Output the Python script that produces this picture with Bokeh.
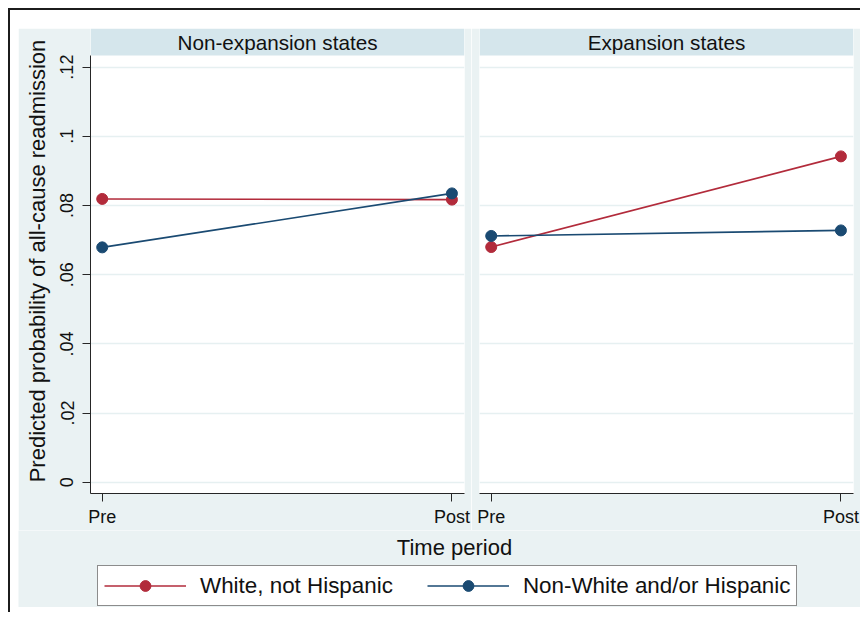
from bokeh.plotting import figure
from bokeh.models import (Range1d, FixedTicker, BoxAnnotation, Label, Legend, LegendItem,
                          ColumnDataSource, Spacer)
from bokeh.layouts import row, column
from bokeh.embed import file_html
from bokeh.resources import INLINE

# ---------------- data ----------------
periods = ["Pre", "Post"]
period_pos = [0, 1]
panel_titles = ["Non-expansion states", "Expansion states"]
series_names = ["White, not Hispanic", "Non-White and/or Hispanic"]
nonexp_white = [0.0819, 0.0817]
nonexp_nonwhite = [0.0679, 0.0835]
exp_white = [0.0680, 0.0942]
exp_nonwhite = [0.0712, 0.0728]
y_ticks = [0, 0.02, 0.04, 0.06, 0.08, 0.1, 0.12]
y_tick_labels = ["0", ".02", ".04", ".06", ".08", ".1", ".12"]
x_title = "Time period"
y_title = "Predicted probability of all-cause readmission"

# ---------------- style ----------------
FONT = "Liberation Sans"
BG = "#EAF2F3"
HDR = "#D5E6EC"
GRID = "#E6F0F1"
RED = "#B22B3B"
BLUE = "#1A4A72"
AX = "#262626"

X_START, X_END = -0.0335, 1.036
Y_START, Y_END = -0.00324, 0.13116
Y_PLOT_TOP = 0.12335
LEFT_BORDER = 72

y_range = Range1d(Y_START, Y_END)


def make_panel(title, white, nonwhite, first):
    p = figure(width=(LEFT_BORDER + 381) if first else 389, height=502,
               x_range=Range1d(X_START, X_END), y_range=y_range,
               output_backend="svg", toolbar_location=None,
               min_border_top=0, min_border_bottom=37,
               min_border_left=LEFT_BORDER if first else 8, min_border_right=7,
               background_fill_color="white", border_fill_color=BG,
               outline_line_color=None)
    # header strip
    p.add_layout(BoxAnnotation(left=X_START, right=X_END, bottom=Y_PLOT_TOP, top=Y_END,
                               fill_color=HDR, fill_alpha=1, line_color=None, level="underlay"))
    p.add_layout(Label(x=(X_START + X_END) / 2, y=(Y_PLOT_TOP + Y_END) / 2, text=title,
                       text_align="center", text_baseline="middle",
                       text_font=FONT, text_font_size="20.7px", text_color="#111111"))
    src_w = ColumnDataSource(dict(x=period_pos, y=white))
    src_n = ColumnDataSource(dict(x=period_pos, y=nonwhite))
    p.line("x", "y", source=src_w, color=RED, line_width=1.6)
    p.scatter("x", "y", source=src_w, size=11, fill_color=RED, line_color=RED)
    p.line("x", "y", source=src_n, color=BLUE, line_width=1.6)
    p.scatter("x", "y", source=src_n, size=11, fill_color=BLUE, line_color=BLUE)

    # x axis
    xa = p.xaxis[0]
    xa.ticker = FixedTicker(ticks=period_pos)
    xa.major_label_overrides = {k: v for k, v in zip(period_pos, periods)}
    xa.major_tick_out = 8
    xa.major_tick_in = 0
    xa.minor_tick_out = 0
    xa.minor_tick_in = 0
    xa.axis_line_color = AX
    xa.major_tick_line_color = AX
    xa.major_label_text_font = FONT
    xa.major_label_text_font_size = "18px"
    xa.major_label_text_color = "#111111"
    xa.major_label_standoff = 5
    p.xgrid.visible = False

    # y axis / grid
    ya = p.yaxis[0]
    ya.ticker = FixedTicker(ticks=y_ticks)
    p.ygrid.ticker = FixedTicker(ticks=y_ticks)
    p.ygrid.grid_line_color = GRID
    p.ygrid.grid_line_width = 1.5
    if first:
        ya.bounds = (Y_START, Y_PLOT_TOP)
        ya.major_label_overrides = {k: v for k, v in zip(y_ticks, y_tick_labels)}
        ya.major_label_orientation = "vertical"
        ya.major_tick_out = 8
        ya.major_tick_in = 0
        ya.minor_tick_out = 0
        ya.minor_tick_in = 0
        ya.axis_line_color = AX
        ya.major_tick_line_color = AX
        ya.major_label_text_font = FONT
        ya.major_label_text_font_size = "18px"
        ya.major_label_text_color = "#111111"
        ya.major_label_standoff = 9
        ya.axis_label = y_title
        ya.axis_label_text_font = FONT
        ya.axis_label_text_font_size = "22px"
        ya.axis_label_text_font_style = "normal"
        ya.axis_label_text_color = "#111111"
        ya.axis_label_standoff = 8
    else:
        ya.visible = False
    return p


pA = make_panel(panel_titles[0], nonexp_white, nonexp_nonwhite, True)
pB = make_panel(panel_titles[1], exp_white, exp_nonwhite, False)

# bottom strip: common x title and legend
CW = LEFT_BORDER + 381 + 389
pC = figure(width=CW, height=77, x_range=Range1d(0, CW), y_range=Range1d(0, 77),
            output_backend="svg", toolbar_location=None, min_border=0,
            x_axis_type=None, y_axis_type=None,
            background_fill_color=BG, border_fill_color=BG, outline_line_color=None)
pC.xgrid.visible = False
pC.ygrid.visible = False
pC.add_layout(Label(x=LEFT_BORDER + 364, y=60, text=x_title, text_align="center",
                    text_baseline="middle",
                    text_font=FONT, text_font_size="22px", text_color="#111111"))
nan = float("nan")
items = []
for name, col in zip(series_names, [RED, BLUE]):
    dummy = ColumnDataSource(dict(x=[nan], y=[nan]))
    lr = pC.line("x", "y", source=dummy, color=col, line_width=1.6)
    sr = pC.scatter("x", "y", source=dummy, size=11, fill_color=col, line_color=col)
    items.append(LegendItem(label=name, renderers=[lr, sr]))
leg = Legend(items=items, orientation="horizontal", location=(LEFT_BORDER + 7, 1),
             glyph_width=82, glyph_height=27, label_standoff=14, spacing=34,
             padding=6, margin=0,
             label_text_font=FONT, label_text_font_size="22.4px", label_text_color="#111111",
             border_line_color="#1a1a1a", border_line_width=1.2,
             background_fill_color="white", background_fill_alpha=1)
pC.add_layout(leg)

inner = column(row(pA, pB), pC)
framed = column(Spacer(height=18), row(Spacer(width=80 - LEFT_BORDER), inner), Spacer(height=5),
                styles={"border-top": "2px solid #1c1c1c", "border-left": "2px solid #1c1c1c",
                        "background-color": "white"})
layout = column(Spacer(height=8), row(Spacer(width=8), framed))

open("out.html", "w").write(file_html(layout, INLINE))
